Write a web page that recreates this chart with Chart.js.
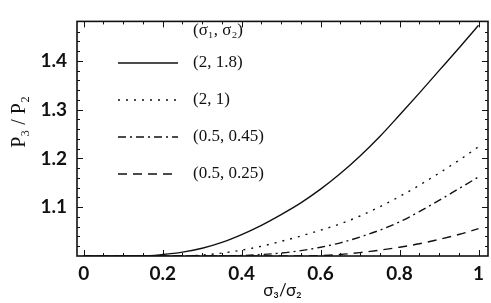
<!DOCTYPE html>
<html><head><meta charset="utf-8">
<script src="https://cdn.jsdelivr.net/npm/chart.js@4/dist/chart.umd.min.js"></script>
<style>html,body{margin:0;padding:0;background:#fff}#wrap{width:491px;height:303px}</style>
</head><body><div id="wrap"><canvas id="c" width="491" height="303"></canvas></div>
<script>
const xValues = [0,0.05,0.1,0.15,0.2,0.25,0.3,0.35,0.4,0.45,0.5,0.55,0.6,0.65,0.7,0.75,0.8,0.85,0.9,0.95,1.0];
const s_2_18   = [1.0,1.0,1.0,1.0,1.003,1.008,1.016,1.028,1.044,1.063,1.085,1.109,1.137,1.169,1.205,1.245,1.289,1.334,1.38,1.426,1.473];
const s_2_1    = [1.0,1.0,1.0,1.0,1.0,1.0,1.002,1.006,1.012,1.02,1.03,1.041,1.053,1.066,1.082,1.101,1.122,1.145,1.17,1.196,1.224];
const s_05_045 = [1.0,1.0,1.0,1.0,1.0,1.0,1.0,1.0,1.001,1.003,1.006,1.011,1.018,1.027,1.039,1.053,1.07,1.091,1.114,1.138,1.162];
const s_05_025 = [1.0,1.0,1.0,1.0,1.0,1.0,1.0,1.0,1.0,1.0,1.0,1.0,1.001,1.003,1.007,1.012,1.018,1.025,1.034,1.044,1.056];
const seriesLabels = ["(2, 1.8)","(2, 1)","(0.5, 0.45)","(0.5, 0.25)"];
const legendTitle = "(σ₁, σ₂)";
const xTicks = [0,0.2,0.4,0.6,0.8,1];
const yTicks = [1.1,1.2,1.3,1.4];
const xTitle = "σ₃/σ₂";
const yTitle = "P₃ / P₂";

const dashes = [[], [2,6], [8,4,2,4], [9,6]];
const series = [s_2_18, s_2_1, s_05_045, s_05_025];
const datasets = series.map((s,i)=>({
  label: seriesLabels[i],
  data: xValues.map((x,j)=>({x:x,y:s[j]})),
  borderColor:'#111', borderWidth:1.4, borderDash:dashes[i],
  pointRadius:0, tension:0.4, cubicInterpolationMode:'monotone', fill:false
}));

const frameTicks = {
  id:'frameTicks',
  afterDatasetsDraw(chart){
    const {ctx, chartArea:a, scales:{x,y}} = chart;
    ctx.save();
    ctx.strokeStyle='#111'; ctx.lineWidth=1;
    for(let v=0; v<=1.0001; v+=0.05){
      const px = Math.round(x.getPixelForValue(v))+0.5;
      const major = Math.abs(v*5-Math.round(v*5))<1e-6;
      const L = major?6:3;
      ctx.beginPath(); ctx.moveTo(px,a.bottom); ctx.lineTo(px,a.bottom-L);
      ctx.moveTo(px,a.top); ctx.lineTo(px,a.top+L); ctx.stroke();
    }
    for(let v=1.02; v<=1.48; v+=0.02){
      const py = Math.round(y.getPixelForValue(v))+0.5;
      const major = Math.abs(v*10-Math.round(v*10))<1e-6;
      const L = major?6:3;
      ctx.beginPath(); ctx.moveTo(a.left,py); ctx.lineTo(a.left+L,py);
      ctx.moveTo(a.right,py); ctx.lineTo(a.right-L,py); ctx.stroke();
    }
    ctx.lineWidth=1.6;
    ctx.strokeRect(a.left,a.top,a.right-a.left,a.bottom-a.top);
    // legend
    ctx.fillStyle='#111';
    ctx.font='17px "Liberation Serif", serif';
    ctx.textBaseline='middle'; ctx.textAlign='left';
    ctx.fillText(legendTitle,193,31);
    const rows=[63,100,137,174];
    chart.data.datasets.forEach((d,i)=>{
      ctx.save();
      ctx.lineWidth=1.4; ctx.setLineDash(d.borderDash);
      ctx.beginPath(); ctx.moveTo(118,rows[i]); ctx.lineTo(178,rows[i]); ctx.stroke();
      ctx.restore();
      ctx.fillText(d.label,193,rows[i]);
    });
    // y-axis title
    ctx.save();
    ctx.translate(20,122); ctx.rotate(-Math.PI/2);
    ctx.textAlign='center'; ctx.textBaseline='middle';
    ctx.font='20px "Liberation Serif", serif';
    ctx.fillText(yTitle,0,0);
    ctx.restore();
    ctx.restore();
  }
};

new Chart(document.getElementById('c'),{
  type:'line',
  data:{datasets},
  options:{
    responsive:false, animation:false, devicePixelRatio:1,
    layout:{padding:{top:3,right:3,left:0,bottom:0}},
    plugins:{legend:{display:false},tooltip:{enabled:false}},
    scales:{
      x:{type:'linear',min:-0.017,max:1.024,
        afterBuildTicks:s=>{s.ticks=xTicks.map(v=>({value:v}));},
        afterFit:s=>{s.height=47;},
        grid:{display:false,drawTicks:false},border:{display:false},
        ticks:{color:'#111',padding:6,maxRotation:0,font:{family:'Lato',weight:'bold',size:19},callback:v=>String(v)},
        title:{display:true,text:xTitle,color:'#111',padding:{top:0,bottom:2},font:{family:'Lato',size:17}}
      },
      y:{type:'linear',min:1.0,max:1.481,
        afterBuildTicks:s=>{s.ticks=yTicks.map(v=>({value:v}));},
        afterFit:s=>{s.width=77;},
        grid:{display:false,drawTicks:false},border:{display:false},
        ticks:{color:'#111',padding:10,font:{family:'Lato',weight:'bold',size:19},callback:v=>v.toFixed(1)},
        title:{display:false}
      }
    }
  },
  plugins:[frameTicks]
});
</script></body></html>
